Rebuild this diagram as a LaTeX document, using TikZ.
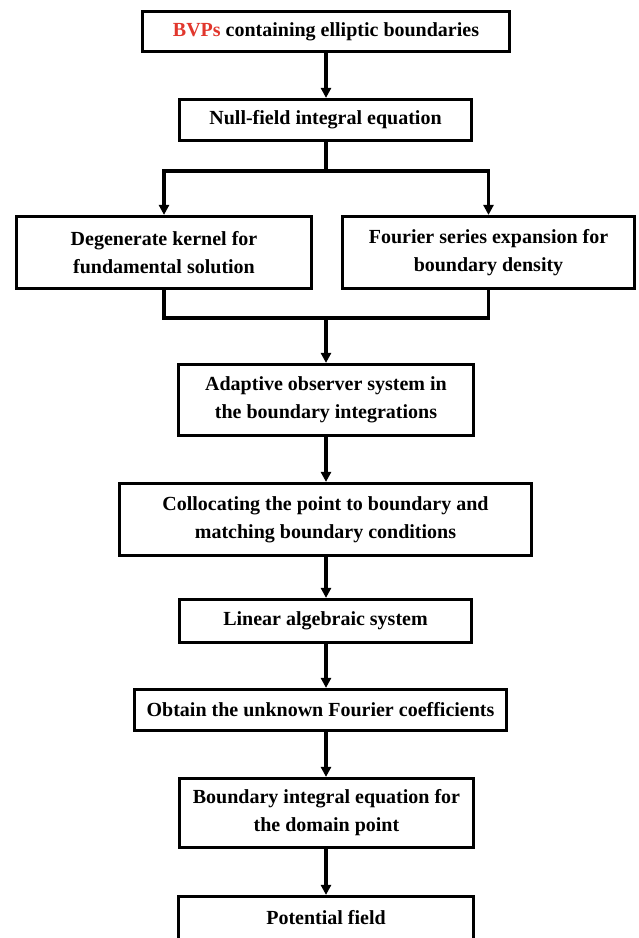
\documentclass[tikz,border=0pt]{standalone}
\usepackage{fontspec}
\setmainfont{Liberation Serif}
\usetikzlibrary{arrows.meta}
\definecolor{bvpred}{RGB}{225,55,45}
\begin{document}
\begin{tikzpicture}[x=1pt,y=-1pt,
  box/.style={draw,line width=3.2pt,inner sep=0pt,align=center,
    font=\fontsize{20}{28}\selectfont\bfseries},
  conn/.style={line width=3.2pt},
  arr/.style={conn,-{Triangle[length=10pt,width=10pt]}}]
\useasboundingbox (0,0) rectangle (638,938);
\node[box,minimum width=367pt,minimum height=40pt] (bvp) at (326,31.5)
  {\textcolor{bvpred}{BVPs} containing elliptic boundaries};
\node[box,minimum width=292pt,minimum height=41pt] (nul) at (325.5,120)
  {Null-field integral equation};
\node[box,minimum width=295pt,minimum height=72pt] (deg) at (164,252.5)
  {Degenerate kernel for\\fundamental solution};
\node[box,minimum width=292pt,minimum height=72pt] (fou) at (488.5,252.5)
  {Fourier series expansion for\\boundary density};
\node[box,minimum width=295pt,minimum height=71pt] (ada) at (326,400)
  {Adaptive observer system in\\the boundary integrations};
\node[box,minimum width=412pt,minimum height=72pt] (col) at (325.5,519.5)
  {Collocating the point to boundary and\\matching boundary conditions};
\node[box,minimum width=292pt,minimum height=43pt] (lin) at (325.5,621)
  {Linear algebraic system};
\node[box,minimum width=372pt,minimum height=41pt] (obt) at (320.5,710)
  {Obtain the unknown Fourier coefficients};
\node[box,minimum width=294pt,minimum height=69pt] (bnd) at (326.5,813)
  {Boundary integral equation for\\the domain point};
\node[box,minimum width=295pt,minimum height=43pt] (pot) at (326,918)
  {Potential field};
\coordinate (sp) at (326,171);
\coordinate (mg) at (326,318);
\draw[arr] (sp |- bvp.south) -- (sp |- nul.north);
\draw[conn] (sp |- nul.south) -- (sp);
\draw[arr] (sp) -| (deg.north);
\draw[arr] (sp) -| (fou.north);
\draw[conn] (deg.south) |- (mg) -| (fou.south);
\draw[arr] (mg) -- (mg |- ada.north);
\draw[arr] (mg |- ada.south) -- (mg |- col.north);
\draw[arr] (mg |- col.south) -- (mg |- lin.north);
\draw[arr] (mg |- lin.south) -- (mg |- obt.north);
\draw[arr] (mg |- obt.south) -- (mg |- bnd.north);
\draw[arr] (mg |- bnd.south) -- (mg |- pot.north);
\end{tikzpicture}
\end{document}
